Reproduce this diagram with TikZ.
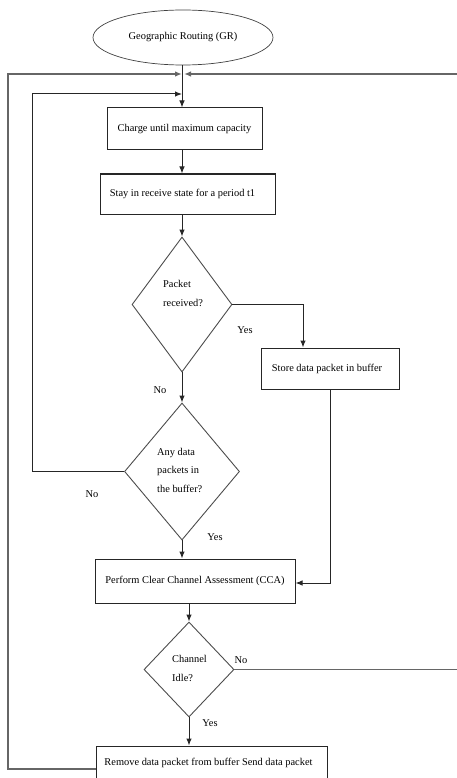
\documentclass[tikz,border=0pt]{standalone}
\usepackage{fontspec}
\setmainfont{Liberation Serif}
\usetikzlibrary{shapes.geometric,arrows.meta,calc}
\begin{document}
\begin{tikzpicture}[x=1pt,y=-1pt,
  every node/.style={font=\fontsize{10.4}{18.5}\selectfont},
  box/.style={draw=black!85,line width=1pt,rectangle,inner sep=0pt},
  dia/.style={draw=black!70,line width=0.9pt,diamond,inner sep=0pt},
  lbl/.style={inner sep=0pt},
  tip/.style={-{Latex[length=7pt,width=5.5pt]}},
  conn/.style={draw=black!85,line width=1pt},
  arr/.style={conn,tip},
  outer/.style={draw=black!60,line width=1.4pt}]
\useasboundingbox (0,0) rectangle (457,778);
% nodes
\node[draw=black!75,line width=0.7pt,ellipse,minimum width=180pt,minimum height=55pt,inner sep=0pt] (gr) at (183,37.5) {Geographic Routing (GR)};
\node[box,minimum width=155pt,minimum height=42pt] (b1) at (184.5,129) {Charge until maximum capacity};
\node[box,minimum width=175pt,minimum height=40pt] (b2) at (187.5,194) {\hspace*{-10pt}Stay in receive state for a period t1};
\node[dia,minimum width=100pt,minimum height=135pt] (d1) at (182,304.5) {};
\node[lbl,align=left,anchor=west] (d1t) at (163,293.5) {Packet\\received?};
\node[box,minimum width=138pt,minimum height=41pt] (b3) at (330,368.5) {Store data packet in buffer\hspace*{6pt}};
\node[dia,minimum width=115pt,minimum height=137pt] (d2) at (182,471.5) {};
\node[lbl,align=left,anchor=west] (d2t) at (157,470) {Any data\\packets in\\the buffer?};
\node[box,minimum width=200pt,minimum height=44pt] (b4) at (195,581) {Perform Clear Channel Assessment (CCA)};
\node[dia,minimum width=90pt,minimum height=95pt] (d3) at (189,669.5) {};
\node[lbl,align=left,anchor=west] (d3t) at (172,668.5) {Channel\\Idle?};
\node[box,minimum width=231pt,minimum height=34pt] (b5) at (211.5,763) {Remove data packet from buffer Send data packet\hspace*{6pt}};
% labels
\node[lbl] (y1) at (245,330) {Yes};
\node[lbl] (n1) at (160,390) {No};
\node[lbl] (n2) at (92,494) {No};
\node[lbl] (y2) at (215,537) {Yes};
\node[lbl] (n3) at (241,660) {No};
\node[lbl] (y3) at (210,723) {Yes};
% junction coordinates
\coordinate (jl) at (182,74);
\coordinate (jr) at (184,74);
\coordinate (jin) at (182,94);
\coordinate (exr) at (458,669.5);
\coordinate (enr) at (458,74);
% connectors
\draw[arr] (gr.south -| jl) -- (jl |- b1.north);
\draw[arr] (b1.south -| jl) -- (jl |- b2.north);
\draw[arr] (b2.south -| d1.north) -- (d1.north);
\draw[arr] (d1.south) -- (d2.north);
\draw[arr] (d1.east) -| ([xshift=-27pt]b3.north);
\draw[arr] (b3.south) |- ([yshift=-2pt]b4.east);
\draw[arr] (d2.south) -- (d2.south |- b4.north);
\draw[arr] (b4.south -| d3.north) -- (d3.north);
\draw[arr] (d3.south) -- (d3.south |- b5.north);
\draw[arr] (d2.west) -- (32,471.5) -- (32,94) -- (jin);
\draw[outer,tip] ([yshift=-6pt]b5.west) -- (8,769) -- (8,74) -- (jl);
\draw[outer] (d3.east) -- (exr);
\draw[outer,tip] (enr) -- (jr);
\end{tikzpicture}
\end{document}
